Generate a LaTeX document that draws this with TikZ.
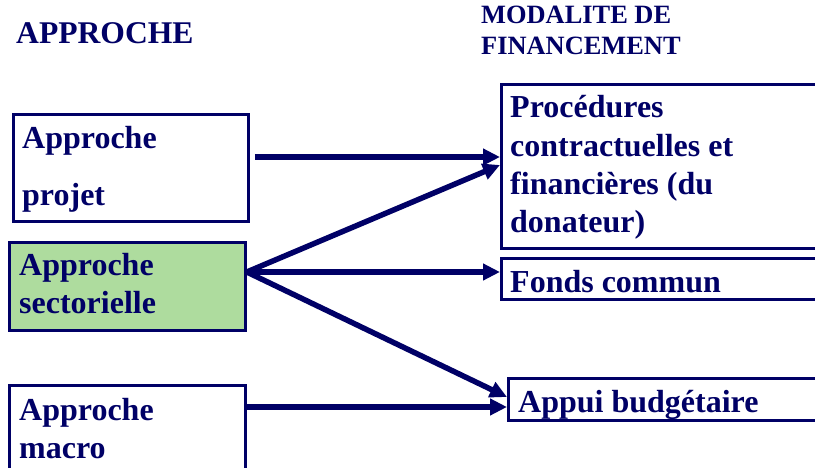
\documentclass[tikz,border=0pt]{standalone}
\usepackage{fontspec}
\setmainfont{Liberation Serif}
\usetikzlibrary{arrows.meta,calc}
\definecolor{navy}{HTML}{000066}
\definecolor{leaf}{HTML}{AEDC9E}
\tikzset{
  box/.style={draw=navy, line width=2.8pt, inner sep=0pt, anchor=north west},
  lbl/.style={text=navy, anchor=base west, inner sep=0pt, font=\bfseries\fontsize{32}{37}\selectfont},
  head/.style={text=navy, anchor=base west, inner sep=0pt, font=\bfseries\fontsize{26.4}{31}\selectfont},
  arr/.style={draw=navy, line width=5.5pt, -{Triangle[length=17pt,width=16pt]}}
}
\begin{document}
\begin{tikzpicture}[x=1pt,y=-1pt]
\clip (0,0) rectangle (815,468);
\fill[white] (0,0) rectangle (815,468);
% headers
\node[head, font=\bfseries\fontsize{31.6}{37}\selectfont] (h1) at (16,44) {APPROCHE};
\node[head] (h2) at (481,24) {MODALITE DE};
\node[head] (h3) at (481,55) {FINANCEMENT};
% left boxes
\node[box, minimum width=235pt, minimum height=107pt] (proj) at (12,113) {};
\node[box, fill=leaf, minimum width=236pt, minimum height=88pt] (sect) at (8,241) {};
\node[box, minimum width=236pt, minimum height=110pt] (macro) at (8,384) {};
% right boxes
\node[box, minimum width=340pt, minimum height=164pt] (proc) at (500,83) {};
\node[box, minimum width=340pt, minimum height=41pt] (fonds) at (500,257) {};
\node[box, minimum width=340pt, minimum height=42pt] (appui) at (507,377) {};
% texts
\node[lbl] (p1) at (22,149) {Approche};
\node[lbl] (p2) at (22,206) {projet};
\node[lbl] (s1) at (19,276) {Approche};
\node[lbl] (s2) at (19,313) {sectorielle};
\node[lbl] (m1) at (19,420) {Approche};
\node[lbl] (m2) at (19,458) {macro};
\node[lbl] (r1) at (510,118) {Procédures};
\node[lbl] (r2) at (510,157) {contractuelles et};
\node[lbl] (r3) at (510,195) {financières (du};
\node[lbl] (r4) at (510,233) {donateur)};
\node[lbl] (f1) at (510,292) {Fonds commun};
\node[lbl] (a1) at (518,412) {Appui budgétaire};
% connectors
\coordinate (hub) at ($(sect.north east)+(0,31)$);
\draw[arr] ($(proj.north east)+(5,44)$) -- ($(proc.north west)+(0,74)$);
\draw[arr] (hub) -- ($(proc.north west)+(0,82)$);
\draw[arr] (hub) -- ($(fonds.north west)+(0,15)$);
\draw[arr] (hub) -- ($(appui.north west)+(0,20)$);
\draw[arr] ($(macro.north east)+(0,23)$) -- ($(appui.north west)+(0,30)$);
\end{tikzpicture}
\end{document}
